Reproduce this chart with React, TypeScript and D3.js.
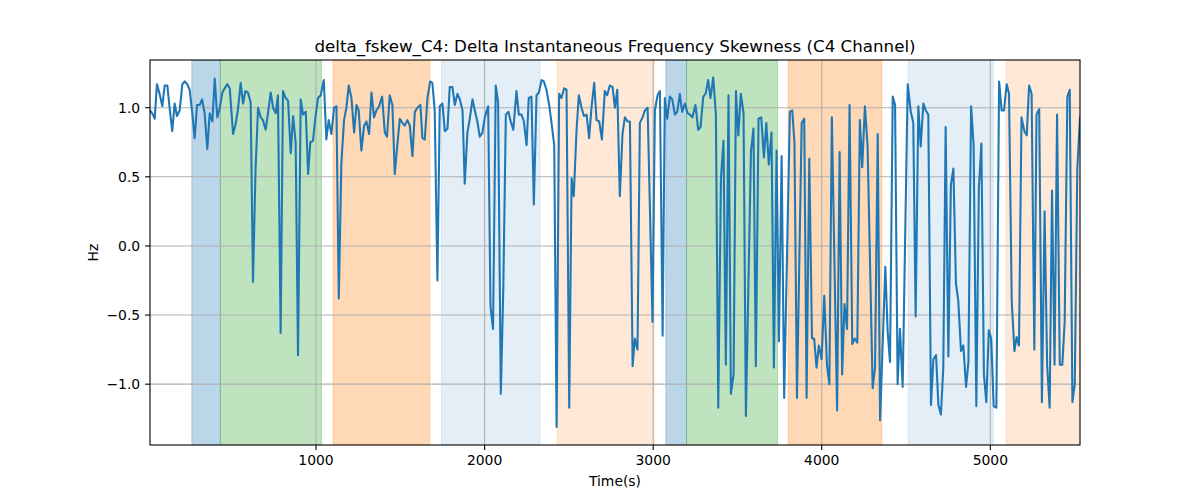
import React from 'react';
import * as d3 from 'd3';

const times = [
  15, 33, 43, 56, 72, 88, 102, 118, 132, 147, 161, 175, 191, 207, 221, 236, 250, 266, 280, 294,
  310, 324, 339, 355, 369, 385, 399, 414, 428, 444, 458, 474, 488, 508, 523, 537, 553, 567, 581, 596,
  612, 626, 641, 656, 672, 685, 701, 715, 731, 745, 761, 774, 790, 804, 820, 834, 850, 864, 879, 893,
  909, 923, 939, 953, 966, 982, 996, 1012, 1028, 1046, 1061, 1075, 1091, 1107, 1121, 1135, 1150, 1166, 1180, 1194,
  1210, 1226, 1240, 1253, 1269, 1285, 1299, 1315, 1329, 1344, 1358, 1374, 1392, 1408, 1421, 1437, 1453, 1467, 1483, 1497,
  1512, 1526, 1542, 1556, 1572, 1586, 1601, 1619, 1631, 1645, 1661, 1677, 1690, 1704, 1720, 1734, 1750, 1764, 1780, 1793,
  1809, 1823, 1839, 1853, 1869, 1882, 1898, 1912, 1928, 1942, 1957, 1971, 1987, 2001, 2021, 2035, 2050, 2066, 2080, 2096,
  2111, 2126, 2141, 2155, 2170, 2189, 2203, 2219, 2233, 2249, 2262, 2278, 2292, 2308, 2322, 2338, 2351, 2367, 2383, 2398,
  2413, 2427, 2442, 2456, 2472, 2486, 2502, 2516, 2529, 2545, 2559, 2575, 2589, 2605, 2620, 2634, 2650, 2664, 2680, 2696,
  2713, 2727, 2743, 2759, 2773, 2787, 2802, 2818, 2832, 2848, 2862, 2878, 2891, 2907, 2921, 2937, 2951, 2967, 2996, 3010,
  3026, 3040, 3056, 3069, 3083, 3099, 3113, 3129, 3143, 3158, 3172, 3188, 3204, 3218, 3232, 3251, 3267, 3281, 3297, 3311,
  3326, 3340, 3356, 3372, 3386, 3402, 3417, 3431, 3447, 3461, 3477, 3491, 3505, 3520, 3536, 3550, 3580, 3595, 3609, 3625,
  3641, 3657, 3671, 3686, 3702, 3716, 3732, 3746, 3762, 3777, 3811, 3825, 3838, 3853, 3881, 3896, 3910, 3926, 3942, 3955,
  3969, 3983, 3999, 4015, 4031, 4045, 4060, 4091, 4106, 4121, 4135, 4150, 4165, 4181, 4195, 4211, 4226, 4240, 4256, 4272,
  4302, 4316, 4332, 4346, 4377, 4391, 4405, 4421, 4435, 4450, 4464, 4480, 4510, 4527, 4543, 4557, 4573, 4587, 4603, 4617,
  4632, 4648, 4662, 4678, 4692, 4707, 4721, 4735, 4751, 4766, 4781, 4796, 4810, 4826, 4840, 4856, 4870, 4886, 4901, 4917,
  4932, 4947, 4962, 4976, 4991, 5005, 5020, 5036, 5052, 5067, 5081, 5097, 5111, 5127, 5143, 5156, 5170, 5185, 5202, 5216,
  5230, 5245, 5261, 5274, 5290, 5306, 5322, 5337, 5352, 5366, 5381, 5396, 5412, 5427, 5441, 5457, 5471, 5487, 5501, 5516,
  5532,
];

const values = [
  0.98, 0.95, 0.92, 1.17, 1.10, 1.01, 1.16, 1.16, 0.99, 0.83, 1.03, 0.94, 0.98, 1.17, 1.19, 1.17, 1.13, 0.96, 0.78, 1.02,
  1.02, 1.06, 0.96, 0.70, 0.96, 0.90, 1.21, 0.93, 0.99, 1.11, 1.14, 1.17, 1.14, 0.81, 0.88, 0.99, 1.18, 1.03, 1.12, 1.11,
  1.04, -0.26, 0.55, 1.0, 0.93, 0.91, 0.84, 0.96, 1.11, 1.0, 0.96, 1.09, -0.63, 1.12, 1.07, 1.05, 0.67, 0.94, 0.75, -0.79,
  1.06, 0.95, 0.97, 0.52, 0.75, 0.76, 0.93, 1.07, 1.09, 1.20, 0.77, 0.91, 0.81, 1.0, 1.01, -0.38, 0.59, 0.91, 1.0, 1.16,
  1.07, 0.82, 1.02, 0.98, 0.69, 0.87, 0.90, 0.81, 1.11, 0.93, 0.98, 1.01, 1.08, 0.82, 0.79, 1.09, 1.02, 0.52, 0.74, 0.92,
  0.89, 0.87, 0.91, 0.87, 0.65, 0.97, 1.0, 1.02, 0.78, 0.77, 1.07, 1.19, 1.18, 0.98, -0.25, 1.01, 1.03, 0.83, 0.85, 1.15,
  1.15, 1.02, 1.10, 1.06, 0.98, 0.45, 0.82, 0.92, 1.06, 0.98, 0.90, 0.79, 0.82, 0.93, 1.01, -0.44, -0.60, 1.16, 1.04, -1.07,
  -0.30, 0.95, 0.97, 0.90, 0.84, 1.12, 0.95, 0.95, 0.90, 0.73, 1.07, 1.08, 0.30, 1.09, 1.11, 1.20, 1.19, 1.13, 1.02, 0.88,
  0.73, -1.31, 1.10, 1.07, 1.14, 1.13, -1.17, 0.49, 0.36, 0.83, 1.09, 1.0, 0.94, 0.95, 0.78, 1.0, 1.18, 0.91, 0.90, 0.77,
  1.12, 1.09, 1.16, 1.15, 1.0, 1.13, 0.36, 0.81, 0.93, 0.90, 0.90, -0.87, -0.67, -0.75, 0.89, 0.93, 0.98, 1.0, -0.55, 0.98,
  1.09, 1.12, -0.65, 1.07, 0.92, 1.08, 1.06, 0.95, 0.97, 1.10, 0.97, 1.03, 0.96, 0.95, 0.93, 1.02, 0.84, 0.86, 1.08, 1.10,
  1.20, 1.07, 1.22, 0.95, -1.17, 0.49, 0.76, -0.86, 1.09, -1.07, -0.93, 1.12, 0.80, 1.10, 0.96, -1.23, 0.68, 0.85, -0.87, 0.92,
  0.93, 0.64, 0.89, 0.59, 0.82, -0.88, 0.69, -0.69, 0.65, -1.10, 0.97, 0.98, 0.75, -1.10, 0.89, 0.92, -1.10, 0.63, -0.67, -0.67,
  -0.88, -0.72, -0.82, -0.36, -0.86, -1.0, 0.93, -1.19, 0.68, -0.93, -0.42, -0.60, 1.02, -0.71, -0.67, -0.70, 0.91, 0.57, 1.01, 0.72,
  -1.03, -0.88, 0.81, -1.26, -0.15, -0.62, -0.84, 1.08, 1.02, -1.0, -0.60, -1.02, 1.17, 0.98, 0.89, -0.51, 1.01, 0.72, 1.03, 0.98,
  0.95, -1.15, -0.82, -0.79, -1.15, -1.22, -0.88, 0.86, -0.80, 0.44, 0.56, -0.27, -0.40, -0.76, -0.72, -1.02, -0.84, 1.01, 0.73, -1.16,
  0.42, 0.74, -0.93, -1.13, -0.61, -0.67, -1.16, -1.17, 1.19, 0.98, 0.98, 1.17, 1.10, -0.40, -0.76, -0.66, -0.72, 0.93, 0.83, 0.80,
  1.16, 1.10, -0.75, 0.95, 0.99, -1.13, 0.25, -0.86, -1.17, 0.40, -0.86, 0.95, -0.86, -0.86, -0.55, 1.08, 1.13, -1.13, -1.0, 0.56,
  0.93,
];

const spanStarts = [263, 432, 1101, 1744, 2430, 3075, 3198, 3801, 4513, 5093];
const spanEnds = [432, 1032, 1675, 2328, 3006, 3198, 3738, 4356, 5018, 5600];
const spanColors = ['#1f77b4', '#2ca02c', '#ff7f0e', '#1f77b4', '#ff7f0e', '#1f77b4', '#2ca02c', '#ff7f0e', '#1f77b4', '#ff7f0e'];
const spanAlphas = [0.3, 0.3, 0.3, 0.12, 0.17, 0.3, 0.3, 0.3, 0.12, 0.17];

const xTicks = [1000, 2000, 3000, 4000, 5000];
const yTicks = [-1.0, -0.5, 0.0, 0.5, 1.0];

const titleText = 'delta_fskew_C4: Delta Instantaneous Frequency Skewness (C4 Channel)';
const xLabel = 'Time(s)';
const yLabel = 'Hz';

export default function App() {
  const W = 1200, H = 500;
  const L = 150, R = 1080, T = 60, B = 445;
  const x = d3.scaleLinear().domain([15, 5532]).range([L, R]);
  const y = d3.scaleLinear().domain([-1.44, 1.345]).range([B, T]);
  const line = d3.line<number>().x((_, i) => x(times[i])).y((d) => y(d));
  const fmt = d3.format('.1f');
  const font = 'DejaVu Sans, sans-serif';

  return (
    <svg width={W} height={H} style={{ position: 'absolute', left: 0, top: 0, background: '#fff' }}>
      <defs>
        <clipPath id="plotclip">
          <rect x={L} y={T} width={R - L} height={B - T} />
        </clipPath>
      </defs>
      <g clipPath="url(#plotclip)">
        {spanStarts.map((s, i) => (
          <rect
            key={i}
            x={x(s)}
            y={T}
            width={x(spanEnds[i]) - x(s)}
            height={B - T}
            fill={spanColors[i]}
            fillOpacity={spanAlphas[i]}
            stroke={spanColors[i]}
            strokeOpacity={spanAlphas[i]}
            strokeWidth={1}
          />
        ))}
      </g>
      {xTicks.map((t) => (
        <line key={'gx' + t} x1={x(t)} x2={x(t)} y1={T} y2={B} stroke="#b0b0b0" strokeWidth={1.1} />
      ))}
      {yTicks.map((t) => (
        <line key={'gy' + t} x1={L} x2={R} y1={y(t)} y2={y(t)} stroke="#b0b0b0" strokeWidth={1.1} />
      ))}
      <g clipPath="url(#plotclip)">
        <path d={line(values) || ''} fill="none" stroke="#1f77b4" strokeWidth={2.08} strokeLinejoin="round" strokeLinecap="square" />
      </g>
      <rect x={L} y={T} width={R - L} height={B - T} fill="none" stroke="#000" strokeWidth={1.1} />
      {xTicks.map((t) => (
        <g key={'tx' + t}>
          <line x1={x(t)} x2={x(t)} y1={B} y2={B + 4.9} stroke="#000" strokeWidth={1.1} />
          <text x={x(t)} y={B + 20} textAnchor="middle" fontFamily={font} fontSize={13.9} fill="#000">{t}</text>
        </g>
      ))}
      {yTicks.map((t) => (
        <g key={'ty' + t}>
          <line x1={L - 4.9} x2={L} y1={y(t)} y2={y(t)} stroke="#000" strokeWidth={1.1} />
          <text x={L - 9.8} y={y(t)} dy="0.35em" textAnchor="end" fontFamily={font} fontSize={13.9} fill="#000">{fmt(t)}</text>
        </g>
      ))}
      <text x={(L + R) / 2} y={486} textAnchor="middle" fontFamily={font} fontSize={13.9} fill="#000">{xLabel}</text>
      <text transform={`translate(98, ${(T + B) / 2}) rotate(-90)`} textAnchor="middle" fontFamily={font} fontSize={13.9} fill="#000">{yLabel}</text>
      <text x={(L + R) / 2} y={52} textAnchor="middle" fontFamily={font} fontSize={16.7} fill="#000">{titleText}</text>
    </svg>
  );
}
